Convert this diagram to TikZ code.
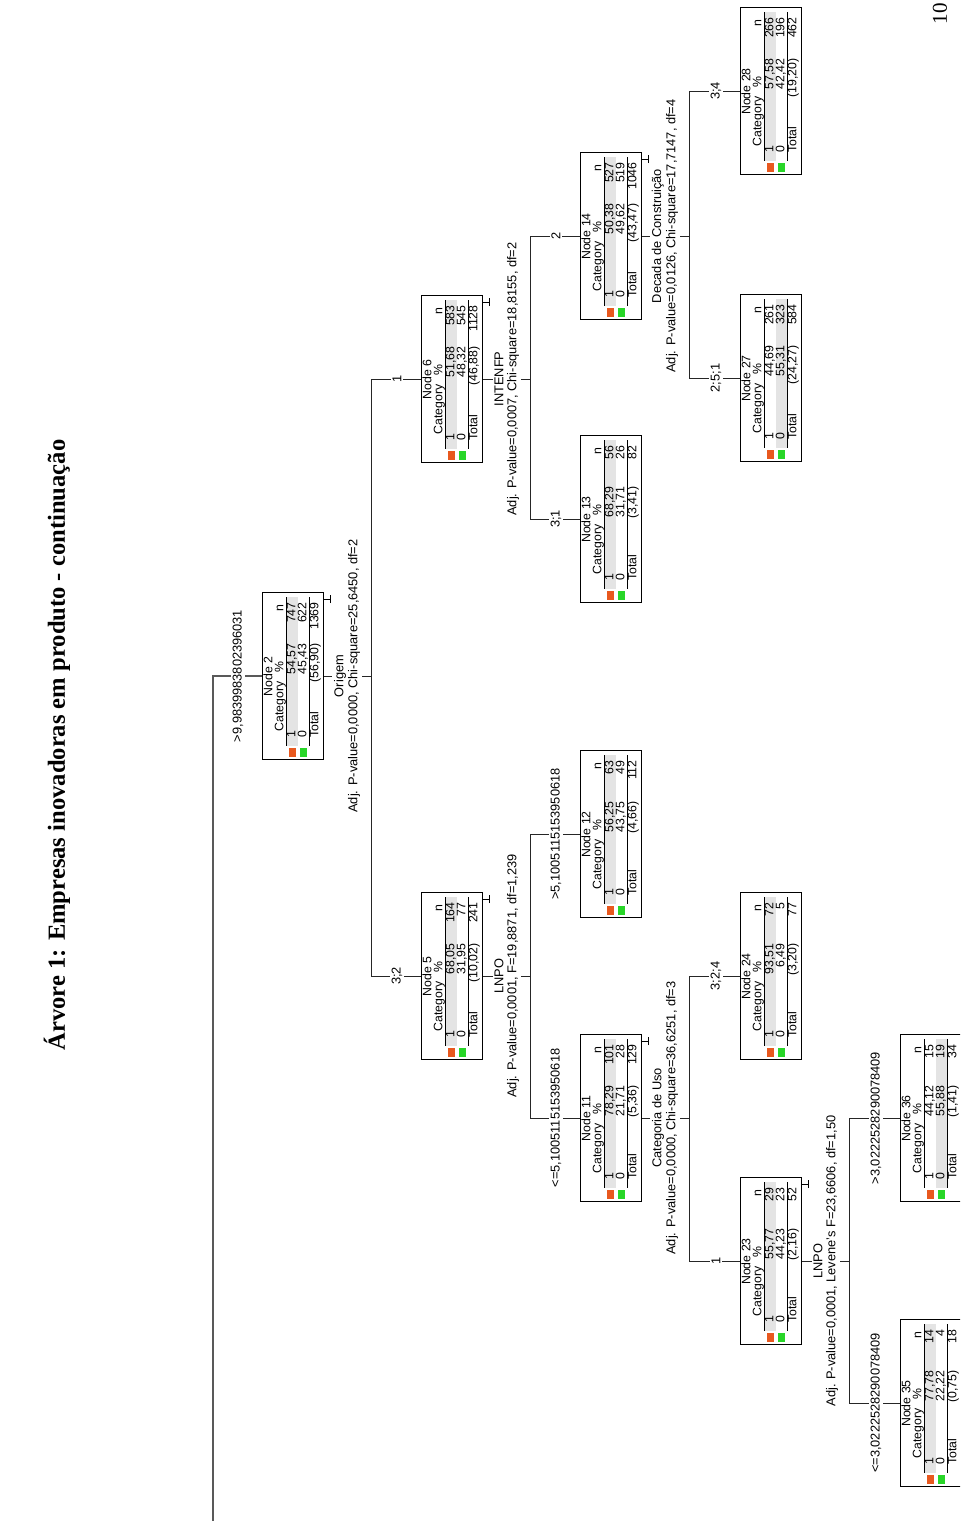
\documentclass[tikz,border=0pt]{standalone}
\usepackage{fontspec}
\setmainfont{Liberation Serif}
\setsansfont{Liberation Sans}
\usetikzlibrary{calc}

\definecolor{catone}{RGB}{232,88,30}
\definecolor{catzero}{RGB}{40,214,40}
\definecolor{bandgray}{RGB}{228,228,228}

\tikzset{
  catbox/.style={draw=black, line width=0.55pt, fill=white, anchor=north west,
    minimum width=3.34cm, minimum height=1.22cm, inner sep=0pt},
  boxtxt/.style={font=\sffamily\fontsize{7}{8}\selectfont, inner sep=0pt,
    text height=5.1pt, text depth=1.4pt},
  edge/.style={draw=black!85, line width=0.55pt},
  rootedge/.style={draw=black!65, line width=1.1pt},
  edgelbl/.style={font=\sffamily\fontsize{7.3}{8}\selectfont, fill=white, inner sep=1pt},
  collapse/.style={draw=black, line width=0.5pt}
}

% one box of the tree: [row with the mode]{node}{% 1}{n 1}{% 0}{n 0}{total %}{total n}
\newcommand{\catnode}[8][1]{%
  \begin{scope}[shift={(c#2)}]
    \node[catbox] (n#2) at (0,0) {};
    \ifnum#1=1
      \fill[bandgray] (14,-24.5) rectangle (163,-35.5);
    \else
      \fill[bandgray] (14,-35.5) rectangle (163,-46.5);
    \fi
    \draw[line width=0.5pt] (14,-24) -- (163,-24) (14,-47.5) -- (163,-47.5);
    \fill[catone] (3,-26.5) rectangle (11.5,-33.5);
    \fill[catzero] (3,-37.5) rectangle (11.5,-44.5);
    \node[boxtxt] (n#2-id) at (83.5,-7) {Node #2};
    \node[boxtxt, anchor=west] (n#2-cat) at (28,-18) {Category};
    \node[boxtxt] (n#2-pct) at (93,-18) {\%};
    \node[boxtxt] (n#2-n) at (152,-18) {n};
    \node[boxtxt, anchor=west] (n#2-a1) at (22,-30) {1};
    \node[boxtxt, anchor=east] (n#2-p1) at (117,-30) {#3};
    \node[boxtxt, anchor=east] (n#2-c1) at (158,-30) {#4};
    \node[boxtxt, anchor=west] (n#2-a0) at (22,-41) {0};
    \node[boxtxt, anchor=east] (n#2-p0) at (117,-41) {#5};
    \node[boxtxt, anchor=east] (n#2-c0) at (158,-41) {#6};
    \node[boxtxt, anchor=west] (n#2-at) at (22,-53) {Total};
    \node[boxtxt, anchor=east] (n#2-pt) at (117,-53) {#7};
    \node[boxtxt, anchor=east] (n#2-ct) at (158,-53) {#8};
  \end{scope}}

% small mark under a box that has children
\newcommand{\collapsemark}[1]{%
  \draw[collapse] ($(n#1.south east)+(-7,0)$) -- ++(0,-6)
    ($(n#1.south east)+(-11,-6)$) -- ++(8,0);}

\begin{document}
\begin{tikzpicture}[x=0.02cm, y=0.02cm]
\useasboundingbox (0,0) rectangle (960,1521);
\clip (0,0) rectangle (960,1521);

\begin{scope}[rotate=90, transform shape]

% Title and page number
\node[font=\bfseries\fontsize{14}{16}\selectfont] (title) at (776,-57)
  {Árvore 1: Empresas inovadoras em produto - continuação};
\node[font=\fontsize{12}{14}\selectfont] (page) at (1507,-940) {10};

% Box corners
\coordinate (c2) at (761,-262);
\coordinate (c5) at (461,-421);
\coordinate (c6) at (1058,-421);
\coordinate (c11) at (319,-580);
\coordinate (c12) at (603,-580);
\coordinate (c13) at (918,-580);
\coordinate (c14) at (1201,-580);
\coordinate (c23) at (176,-740);
\coordinate (c24) at (461,-740);
\coordinate (c27) at (1059,-740);
\coordinate (c28) at (1346,-740);
\coordinate (c35) at (34,-900);
\coordinate (c36) at (319,-900);

% Boxes
\catnode{2}{54,57}{747}{45,43}{622}{(56,90)}{1369}
\catnode{5}{68,05}{164}{31,95}{77}{(10,02)}{241}
\catnode{6}{51,68}{583}{48,32}{545}{(46,88)}{1128}
\catnode{11}{78,29}{101}{21,71}{28}{(5,36)}{129}
\catnode{12}{56,25}{63}{43,75}{49}{(4,66)}{112}
\catnode{13}{68,29}{56}{31,71}{26}{(3,41)}{82}
\catnode{14}{50,38}{527}{49,62}{519}{(43,47)}{1046}
\catnode{23}{55,77}{29}{44,23}{23}{(2,16)}{52}
\catnode{24}{93,51}{72}{6,49}{5}{(3,20)}{77}
\catnode[0]{27}{44,69}{261}{55,31}{323}{(24,27)}{584}
\catnode{28}{57,58}{266}{42,42}{196}{(19,20)}{462}
\catnode{35}{77,78}{14}{22,22}{4}{(0,75)}{18}
\catnode[0]{36}{44,12}{15}{55,88}{19}{(1,41)}{34}

\collapsemark{2}
\collapsemark{5}
\collapsemark{6}
\collapsemark{11}
\collapsemark{14}
\collapsemark{23}

% Root
\coordinate (root) at (0,-213);
\draw[rootedge] (root) -| (n2.north);
\node[edgelbl] (l2) at ($(n2.north)+(0,24)$) {>9,9839983802396031};

% Split of node 2
\draw[edge] (n2.south) -- ++(0,-48) coordinate (s2);
\draw[edge] (n5.north) |- (s2) -| (n6.north);
\node[edgelbl] (v2) at ($(n2.south)+(0,-16)$) {Origem};
\node[edgelbl] (t2) at ($(n2.south)+(0,-30)$) {Adj. P-value=0,0000, Chi-square=25,6450, df=2};
\node[edgelbl] (l5) at ($(n5.north)+(0,24)$) {3;2};
\node[edgelbl] (l6) at ($(n6.north)+(0,24)$) {1};

% Split of node 5
\draw[edge] (n5.south) -- ++(0,-48) coordinate (s5);
\draw[edge] (n11.north) |- (s5) -| (n12.north);
\node[edgelbl] (v5) at ($(n5.south)+(0,-16)$) {LNPO};
\node[edgelbl] (t5) at ($(n5.south)+(0,-30)$) {Adj. P-value=0,0001, F=19,8871, df=1,239};
\node[edgelbl] (l11) at ($(n11.north)+(0,24)$) {<=5,1005115153950618};
\node[edgelbl] (l12) at ($(n12.north)+(0,24)$) {>5,1005115153950618};

% Split of node 6
\draw[edge] (n6.south) -- ++(0,-48) coordinate (s6);
\draw[edge] (n13.north) |- (s6) -| (n14.north);
\node[edgelbl] (v6) at ($(n6.south)+(0,-16)$) {INTENFP};
\node[edgelbl] (t6) at ($(n6.south)+(0,-30)$) {Adj. P-value=0,0007, Chi-square=18,8155, df=2};
\node[edgelbl] (l13) at ($(n13.north)+(0,24)$) {3;1};
\node[edgelbl] (l14) at ($(n14.north)+(0,24)$) {2};

% Split of node 11
\draw[edge] (n11.south) -- ++(0,-48) coordinate (s11);
\draw[edge] (n23.north) |- (s11) -| (n24.north);
\node[edgelbl] (v11) at ($(n11.south)+(0,-16)$) {Categoria de Uso};
\node[edgelbl] (t11) at ($(n11.south)+(0,-30)$) {Adj. P-value=0,0000, Chi-square=36,6251, df=3};
\node[edgelbl] (l23) at ($(n23.north)+(0,24)$) {1};
\node[edgelbl] (l24) at ($(n24.north)+(0,24)$) {3;2;4};

% Split of node 14
\draw[edge] (n14.south) -- ++(0,-48) coordinate (s14);
\draw[edge] (n27.north) |- (s14) -| (n28.north);
\node[edgelbl] (v14) at ($(n14.south)+(0,-16)$) {Decada de Construição};
\node[edgelbl] (t14) at ($(n14.south)+(0,-30)$) {Adj. P-value=0,0126, Chi-square=17,7147, df=4};
\node[edgelbl] (l27) at ($(n27.north)+(0,24)$) {2;5;1};
\node[edgelbl] (l28) at ($(n28.north)+(0,24)$) {3;4};

% Split of node 23
\draw[edge] (n23.south) -- ++(0,-48) coordinate (s23);
\draw[edge] (n35.north) |- (s23) -| (n36.north);
\node[edgelbl] (v23) at ($(n23.south)+(0,-16)$) {LNPO};
\node[edgelbl] (t23) at ($(n23.south)+(0,-30)$) {Adj. P-value=0,0001, Levene's F=23,6606, df=1,50};
\node[edgelbl] (l35) at ($(n35.north)+(0,24)$) {<=3,0222528290078409};
\node[edgelbl] (l36) at ($(n36.north)+(0,24)$) {>3,0222528290078409};

\end{scope}
\end{tikzpicture}
\end{document}
